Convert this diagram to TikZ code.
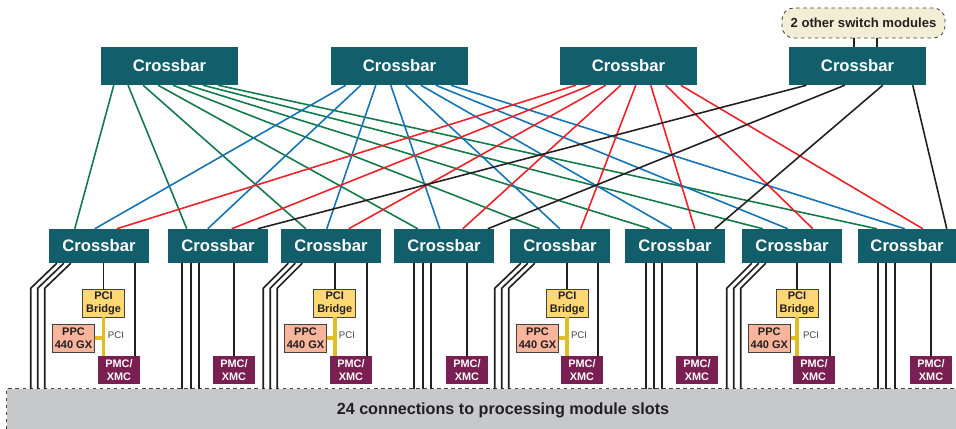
\documentclass[tikz,border=0pt]{standalone}
\usepackage{fontspec}
\setmainfont{Liberation Sans}
\definecolor{barteal}{HTML}{125E6A}
\definecolor{pmcpurple}{HTML}{7A1F52}
\definecolor{bridgeyellow}{HTML}{FFD874}
\definecolor{ppcsalmon}{HTML}{F9B49C}
\definecolor{pciyellow}{HTML}{E0BE22}
\definecolor{slotgray}{HTML}{C7C8CA}
\definecolor{othercream}{HTML}{F2EED6}
\definecolor{linkgreen}{HTML}{127A48}
\definecolor{linkblue}{HTML}{1273B8}
\definecolor{linkred}{HTML}{EC2229}
\definecolor{linkblack}{HTML}{231F20}
\usetikzlibrary{positioning, calc}

\begin{document}
\begin{tikzpicture}[x=0.03cm, y=-0.03cm,
      topbar/.style={fill=barteal, text=white, inner sep=0pt,
                    minimum width=4.11cm, minimum height=1.14cm,
                    font=\fontsize{14.2}{17}\selectfont\bfseries},
      lowbar/.style={topbar, minimum width=3cm, minimum height=1.02cm},
      bridgebox/.style={draw=linkblack!85, fill=bridgeyellow, inner sep=0pt, line width=0.8pt,
                    minimum width=1.26cm, minimum height=0.84cm, align=center,
                    text=linkblack, font=\fontsize{9.4}{11.2}\selectfont\bfseries},
      ppcbox/.style={bridgebox, fill=ppcsalmon, minimum width=1.28cm},
      pmcbox/.style={fill=pmcpurple, text=white, inner sep=0pt,
                    minimum width=1.26cm, minimum height=0.84cm, align=center,
                    font=\fontsize{9.3}{11.2}\selectfont\bfseries},
      pcilabel/.style={inner sep=0pt, text=linkblack!85, font=\fontsize{8.2}{10}\selectfont},
      wire/.style={line width=1.4pt, linkblack},
      pciwire/.style={line width=3.4pt, pciyellow},
      greenlink/.style={line width=1.35pt, linkgreen},
      bluelink/.style={line width=1.35pt, linkblue},
      redlink/.style={line width=1.35pt, linkred},
      blacklink/.style={line width=1.35pt, linkblack}
    ]
      \useasboundingbox (0,0) rectangle (956,429);

      % slots along the bottom
      \node[fill=slotgray, inner sep=0pt, minimum width=28.47cm, minimum height=1.2cm] (slots) at (481.5,409) {};
      \draw[dashed, line width=0.7pt, linkblack!85] (slots.south west) -- (slots.north west) -- (slots.north east);
      \node[inner sep=0pt, text=linkblack, font=\fontsize{13.8}{16}\selectfont\bfseries] (slotstext) at (503,410) {24 connections to processing module slots};

      % switch modules on top
      \node[draw=linkblack!85, dashed, fill=othercream, rounded corners=10pt, inner sep=0pt, line width=0.7pt,
            minimum width=4.89cm, minimum height=0.9cm, text=linkblack,
            font=\fontsize{11.2}{13}\selectfont\bfseries] (other) at (863.5,23) {2 other switch modules};

      \node[topbar] (t1) at (169.5,66) {Crossbar};
      \node[topbar] (t2) at (399.5,66) {Crossbar};
      \node[topbar] (t3) at (628.5,66) {Crossbar};
      \node[topbar] (t4) at (857.5,66) {Crossbar};

      \node[lowbar] (b1) at (99,246) {Crossbar};
      \node[lowbar] (b2) at (218,246) {Crossbar};
      \node[lowbar] (b3) at (331,246) {Crossbar};
      \node[lowbar] (b4) at (444,246) {Crossbar};
      \node[lowbar] (b5) at (560,246) {Crossbar};
      \node[lowbar] (b6) at (675,246) {Crossbar};
      \node[lowbar] (b7) at (792,246) {Crossbar};
      \node[lowbar, minimum width=2.94cm] (b8) at (907,246) {Crossbar};

      \draw[wire] ($(t4.north)+(-3.5,0)$) -- ($(t4.north)+(-3.5,-9)$);
      \draw[wire] ($(t4.north)+(19.5,0)$) -- ($(t4.north)+(19.5,-9)$);

      % first top crossbar to all eight
      \draw[greenlink] ($(t1.south west)+(13,0)$) -- ($(b1.north west)+(26,0)$);
      \draw[greenlink] ($(t1.south west)+(27.3,0)$) -- ($(b2.north west)+(19,0)$);
      \draw[greenlink] ($(t1.south west)+(42.3,0)$) -- ($(b3.north west)+(25,0)$);
      \draw[greenlink] ($(t1.south west)+(57.3,0)$) -- ($(b4.north west)+(24,0)$);
      \draw[greenlink] ($(t1.south west)+(72.3,0)$) -- ($(b5.north west)+(30,0)$);
      \draw[greenlink] ($(t1.south west)+(87.3,0)$) -- ($(b6.north west)+(25,0)$);
      \draw[greenlink] ($(t1.south west)+(102.3,0)$) -- ($(b7.north west)+(21,0)$);
      \draw[greenlink] ($(t1.south west)+(117.3,0)$) -- ($(b8.north west)+(19,0)$);

      % second
      \draw[bluelink] ($(t2.south west)+(15,0)$) -- ($(b1.north west)+(46,0)$);
      \draw[bluelink] ($(t2.south west)+(30,0)$) -- ($(b2.north west)+(40,0)$);
      \draw[bluelink] ($(t2.south west)+(45,0)$) -- ($(b3.north west)+(46,0)$);
      \draw[bluelink] ($(t2.south west)+(60,0)$) -- ($(b4.north west)+(46,0)$);
      \draw[bluelink] ($(t2.south west)+(75,0)$) -- ($(b5.north west)+(50,0)$);
      \draw[bluelink] ($(t2.south west)+(90,0)$) -- ($(b6.north west)+(47,0)$);
      \draw[bluelink] ($(t2.south west)+(105,0)$) -- ($(b7.north west)+(46,0)$);
      \draw[bluelink] ($(t2.south west)+(120,0)$) -- ($(b8.north west)+(47,0)$);

      % third
      \draw[redlink] ($(t3.south west)+(16,0)$) -- ($(b1.north west)+(68,0)$);
      \draw[redlink] ($(t3.south west)+(31,0)$) -- ($(b2.north west)+(64,0)$);
      \draw[redlink] ($(t3.south west)+(46,0)$) -- ($(b3.north west)+(68,0)$);
      \draw[redlink] ($(t3.south west)+(61,0)$) -- ($(b4.north west)+(69,0)$);
      \draw[redlink] ($(t3.south west)+(76,0)$) -- ($(b5.north west)+(71,0)$);
      \draw[redlink] ($(t3.south west)+(91,0)$) -- ($(b6.north west)+(70,0)$);
      \draw[redlink] ($(t3.south west)+(106,0)$) -- ($(b7.north west)+(71,0)$);
      \draw[redlink] ($(t3.south west)+(121,0)$) -- ($(b8.north west)+(65,0)$);

      % fourth, only four of them
      \draw[blacklink] ($(t4.south west)+(17.7,0)$) -- ($(b2.north west)+(90,0)$);
      \draw[blacklink] ($(t4.south west)+(56,0)$) -- ($(b4.north west)+(94,0)$);
      \draw[blacklink] ($(t4.south west)+(94,0)$) -- ($(b6.north west)+(90,0)$);
      \draw[blacklink] ($(t4.south west)+(124,0)$) -- ($(b8.north west)+(89,0)$);

      % boards under the odd crossbars
      \node[bridgebox] (br1) at (103.5,303) {PCI\\Bridge};
      \node[bridgebox] (br3) at (334.7,303) {PCI\\Bridge};
      \node[bridgebox] (br5) at (567.3,303) {PCI\\Bridge};
      \node[bridgebox] (br7) at (797,303) {PCI\\Bridge};

      \node[ppcbox] (ppc1) at (73.5,338) {PPC\\440 GX};
      \node[ppcbox] (ppc3) at (305.5,338) {PPC\\440 GX};
      \node[ppcbox] (ppc5) at (537.5,338) {PPC\\440 GX};
      \node[ppcbox] (ppc7) at (769.3,338) {PPC\\440 GX};

      \node[pmcbox] (pm1) at (119,370) {PMC/\\XMC};
      \node[pmcbox] (pm2) at (234,370) {PMC/\\XMC};
      \node[pmcbox] (pm3) at (351,370) {PMC/\\XMC};
      \node[pmcbox] (pm4) at (467,370) {PMC/\\XMC};
      \node[pmcbox] (pm5) at (582,370) {PMC/\\XMC};
      \node[pmcbox] (pm6) at (697,370) {PMC/\\XMC};
      \node[pmcbox] (pm7) at (814,370) {PMC/\\XMC};
      \node[pmcbox] (pm8) at (931,370) {PMC/\\XMC};

      \node[pcilabel] (pci1) at (116,335.5) {PCI};
      \node[pcilabel] (pci3) at (347,335.5) {PCI};
      \node[pcilabel] (pci5) at (579,335.5) {PCI};
      \node[pcilabel] (pci7) at (811,335.5) {PCI};

      \draw[pciwire] (br1.south) -- (br1.south |- pm1.north);
      \draw[pciwire] (br3.south) -- (br3.south |- pm3.north);
      \draw[pciwire] (br5.south) -- (br5.south |- pm5.north);
      \draw[pciwire] (br7.south) -- (br7.south |- pm7.north);
      \draw[pciwire] (ppc1.east) -- (ppc1.east -| br1.south);
      \draw[pciwire] (ppc3.east) -- (ppc3.east -| br3.south);
      \draw[pciwire] (ppc5.east) -- (ppc5.east -| br5.south);
      \draw[pciwire] (ppc7.east) -- (ppc7.east -| br7.south);

      \draw[wire] (br1.north |- b1.south) -- (br1.north);
      \draw[wire] (br3.north |- b3.south) -- (br3.north);
      \draw[wire] (br5.north |- b5.south) -- (br5.north);
      \draw[wire] (br7.north |- b7.south) -- (br7.north);

      \draw[wire] ($(pm1.north)+(16,0)$) -- ($(pm1.north)+(16,-93)$);
      \draw[wire] ($(pm3.north)+(16,0)$) -- ($(pm3.north)+(16,-93)$);
      \draw[wire] ($(pm5.north)+(16,0)$) -- ($(pm5.north)+(16,-93)$);
      \draw[wire] ($(pm7.north)+(16,0)$) -- ($(pm7.north)+(16,-93)$);
      \draw[wire] (pm2.north) -- (pm2.north |- b2.south);
      \draw[wire] (pm4.north) -- (pm4.north |- b4.south);
      \draw[wire] (pm6.north) -- (pm6.north |- b6.south);
      \draw[wire] (pm8.north) -- (pm8.north |- b8.south);

      % bundles down to the slots
      \draw[wire] ($(b1.south west)+(8,0)$) -- ++(-26,25) -- ++(0,101);
      \draw[wire] ($(b1.south west)+(15,0)$) -- ++(-26,25) -- ++(0,101);
      \draw[wire] ($(b1.south west)+(22,0)$) -- ++(-26,25) -- ++(0,101);
      \draw[wire] ($(b3.south west)+(7.5,0)$) -- ++(-25,25) -- ++(0,101);
      \draw[wire] ($(b3.south west)+(14.5,0)$) -- ++(-25,25) -- ++(0,101);
      \draw[wire] ($(b3.south west)+(21.5,0)$) -- ++(-25,25) -- ++(0,101);
      \draw[wire] ($(b5.south west)+(11,0)$) -- ++(-26,25) -- ++(0,101);
      \draw[wire] ($(b5.south west)+(18,0)$) -- ++(-26,25) -- ++(0,101);
      \draw[wire] ($(b5.south west)+(25,0)$) -- ++(-26,25) -- ++(0,101);
      \draw[wire] ($(b7.south west)+(10,0)$) -- ++(-25,25) -- ++(0,101);
      \draw[wire] ($(b7.south west)+(17,0)$) -- ++(-25,25) -- ++(0,101);
      \draw[wire] ($(b7.south west)+(24,0)$) -- ++(-25,25) -- ++(0,101);

      \draw[wire] ($(b2.south west)+(14,0)$) -- ++(0,126);
      \draw[wire] ($(b2.south west)+(23,0)$) -- ++(0,126);
      \draw[wire] ($(b2.south west)+(31,0)$) -- ++(0,126);
      \draw[wire] ($(b4.south west)+(20,0)$) -- ++(0,126);
      \draw[wire] ($(b4.south west)+(29,0)$) -- ++(0,126);
      \draw[wire] ($(b4.south west)+(37,0)$) -- ++(0,126);
      \draw[wire] ($(b6.south west)+(21,0)$) -- ++(0,126);
      \draw[wire] ($(b6.south west)+(29,0)$) -- ++(0,126);
      \draw[wire] ($(b6.south west)+(37,0)$) -- ++(0,126);
      \draw[wire] ($(b8.south west)+(20,0)$) -- ++(0,126);
      \draw[wire] ($(b8.south west)+(28,0)$) -- ++(0,126);
      \draw[wire] ($(b8.south west)+(37,0)$) -- ++(0,126);
    \end{tikzpicture}
\end{document}
